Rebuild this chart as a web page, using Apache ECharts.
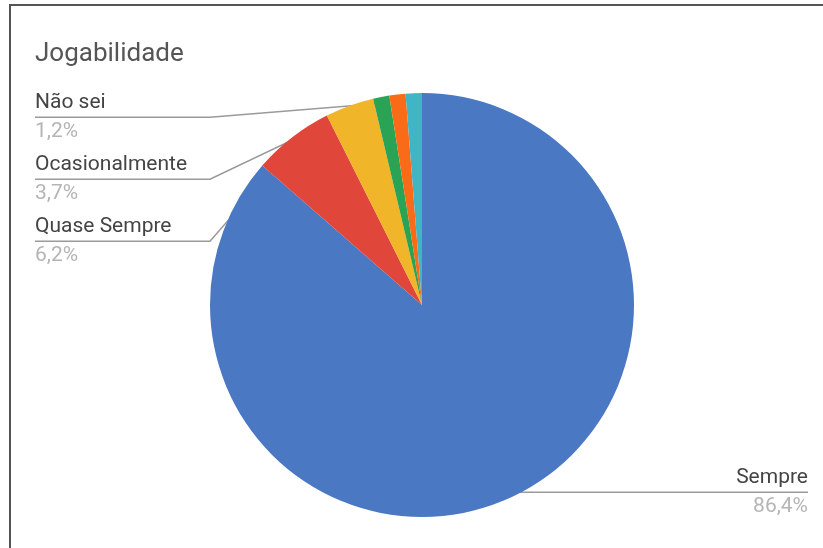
<!DOCTYPE html>
<html>
<head>
<meta charset="utf-8">
<script src="https://cdn.jsdelivr.net/npm/echarts@6/dist/echarts.min.js"></script>
<style>
  html, body { margin: 0; padding: 0; background: #fff; }
  #frame { position: absolute; left: 9px; top: 4px; width: 823px; height: 548px;
           border-left: 2px solid #555; border-top: 2px solid #555; }
  #chart { position: absolute; left: 0; top: 0; width: 823px; height: 548px; }
</style>
</head>
<body>
<div id="frame"></div>
<div id="chart"></div>
<script>
// respostas (81 no total)
const categories = ['Sempre', 'Quase Sempre', 'Ocasionalmente', 'Não sei', 'Raramente', 'Nunca'];
const values = [70, 5, 3, 1, 1, 1];
const colors = ['#4a78c2', '#e0463a', '#f1b52a', '#2aa354', '#f96b16', '#40b5c6'];
const showLabel = [true, true, true, true, false, false];

const CX = 422, CY = 305, R = 212;

const chart = echarts.init(document.getElementById('chart'));

const total = values.reduce((a, b) => a + b, 0);
const fmtPct = v => (v / total * 100).toFixed(1).replace('.', ',') + '%';

const option = {
  backgroundColor: 'transparent',
  title: {
    text: 'Jogabilidade',
    left: 30,
    top: 36,
    textStyle: { fontFamily: 'Roboto', fontSize: 26, fontWeight: 'normal', color: '#555' }
  },
  series: [{
    type: 'pie',
    center: [CX, CY],
    radius: R,
    startAngle: 90,
    clockwise: true,
    avoidLabelOverlap: true,
    animation: false,
    data: categories.map((name, i) => ({
      name: name,
      value: values[i],
      itemStyle: { color: colors[i] },
      label: { show: showLabel[i], edgeDistance: i === 0 ? 15 : 35 },
      labelLine: { show: showLabel[i] }
    })),
    label: {
      alignTo: 'edge',
      minMargin: 12,
      formatter: p => '{name|' + p.name + '}\n{pct|' + fmtPct(p.value) + '}',
      rich: {
        name: { fontFamily: 'Roboto', fontSize: 21, color: '#444', lineHeight: 29 },
        pct: { fontFamily: 'Roboto', fontSize: 21, color: '#b5b5b5', lineHeight: 29 }
      }
    },
    labelLine: {
      length: 15,
      length2: 0,
      lineStyle: { color: '#9a9a9a', width: 1.5 }
    },
    labelLayout: function (params) {
      const pts = params.labelLinePoints;
      if (!pts) return {};
      const rect = params.labelRect;
      const isLeft = rect.x < chart.getWidth() / 2;
      // ponto de ancoragem um pouco dentro da fatia
      const p0 = [CX + (pts[0][0] - CX) * 0.97, CY + (pts[0][1] - CY) * 0.97];
      const mid = rect.y + rect.height / 2;
      if (isLeft) {
        const dy = 35;
        const y = mid + dy;
        return {
          dy: dy,
          labelLinePoints: [p0, [rect.x + 175, y], [rect.x, y]]
        };
      }
      const y = p0[1];
      return {
        dy: y - mid,
        labelLinePoints: [p0, p0, [rect.x + rect.width, y]]
      };
    }
  }]
};

chart.setOption(option);
</script>
</body>
</html>
